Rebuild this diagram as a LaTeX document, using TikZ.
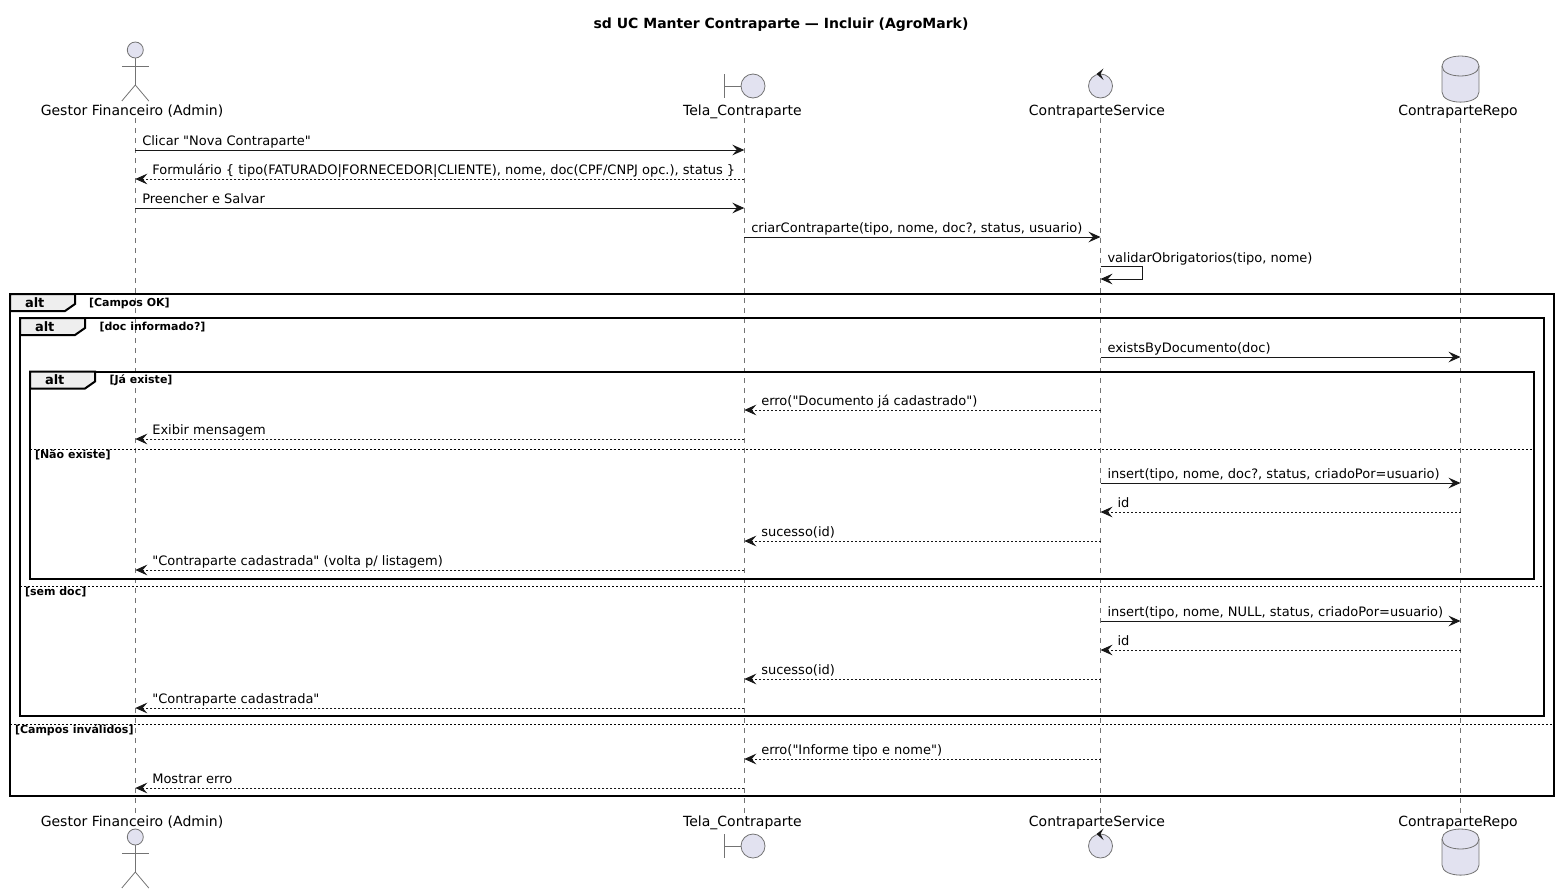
\documentclass[tikz,border=0pt]{standalone}
\usepackage{fontspec}
\newfontfamily\diagfont{DejaVu Sans}
\usepackage{tikz}
\usetikzlibrary{arrows.meta,calc}

\definecolor{partfill}{HTML}{E2E2F0}
\definecolor{partline}{HTML}{181818}
\definecolor{tabfill}{HTML}{EEEEEE}

\tikzset{
	symbol/.style={draw=black!55, line width=0.6pt, fill=partfill},
	symline/.style={draw=black!55, line width=0.6pt},
	actorsym/.pic={
		\draw[symline] (0,8) -- (0,35) (-13.5,16) -- (13.5,16);
		\draw[symline] (-13.5,51) -- (0,35) -- (13.5,51);
		\draw[symbol] (0,0) circle [radius=8];
	},
	boundarysym/.pic={
		\draw[symline] (-29,-12) -- (-29,12) (-29,0) -- (-12,0);
		\draw[symbol] (0,0) circle [radius=12];
	},
	controlsym/.pic={
		\draw[symbol] (0,0) circle [radius=12];
		\fill[partline] (-4,-12) -- (3,-17.5) -- (0,-12) -- (3,-6) -- cycle;
	},
	dbsym/.pic={
		\draw[symbol] (-18.5,0) -- (-18.5,26) .. controls (-18.5,39.5) and (18.5,39.5) .. (18.5,26)
			-- (18.5,0) .. controls (18.5,-13.3) and (-18.5,-13.3) .. (-18.5,0) -- cycle;
		\draw[symline] (-18.5,0) .. controls (-18.5,13.3) and (18.5,13.3) .. (18.5,0);
	}
}

\begin{document}
\begin{tikzpicture}
		[
			x=0.75pt,
			y=-0.75pt,
			every node/.style={inner sep=0pt, outer sep=0pt, text=black},
			title/.style={font=\diagfont\fontsize{10.5}{12}\selectfont\bfseries, anchor=base},
			part/.style={font=\diagfont\fontsize{10.5}{12}\selectfont, anchor=base},
			msg/.style={font=\diagfont\fontsize{9.75}{12}\selectfont, anchor=base west},
			alttag/.style={font=\diagfont\fontsize{9.75}{12}\selectfont\bfseries, anchor=base west},
			guard/.style={font=\diagfont\fontsize{8.25}{10}\selectfont\bfseries, anchor=base west},
			lifeline/.style={draw=black!55, line width=0.55pt, dash pattern=on 3.75pt off 3.75pt},
			arrow/.style={draw=partline, line width=0.75pt, -{Stealth[length=9pt,width=8pt,inset=3.4pt]}},
			reply/.style={arrow, dash pattern=on 1.5pt off 1.5pt},
			frameline/.style={draw=black, line width=1.5pt},
			sepline/.style={draw=black, line width=0.75pt, dash pattern=on 1.5pt off 1.5pt}
		]
		\useasboundingbox (0,0) rectangle (1559,893);

		% title
		\node[title] (title) at ( 781, 28 ) {sd UC Manter Contraparte — Incluir (AgroMark)};

		% lifelines
		\foreach \name/\x in {G/135.3,T/744.3,S/1100.5,R/1460.5}
		{
			\coordinate (\name) at (\x,118);
			\coordinate (\name end) at (\x,814);
			\draw[lifeline] (\name) -- (\name end);
		}

		% participants
		\pic at (  135.3,  50 ) {actorsym};
		\pic at (  753.0,  86 ) {boundarysym};
		\pic at ( 1100.5,  86 ) {controlsym};
		\pic at ( 1460.5,  66 ) {dbsym};
		\pic at (  135.3, 837 ) {actorsym};
		\pic at (  753.0, 846 ) {boundarysym};
		\pic at ( 1100.5, 846 ) {controlsym};
		\pic at ( 1460.5, 839 ) {dbsym};

		\foreach \name/\x/\txt in
		{G/132/Gestor Financeiro (Admin),T/742.5/Tela\_Contraparte,S/1097/ContraparteService,R/1458/ContraparteRepo}
		{
			\node[part] (\name head) at ( \x, 115 ) {\txt};
			\node[part] (\name foot) at ( \x, 826 ) {\txt};
		}

		% alt frames
		\foreach \id/\lft/\rgt/\top/\bot/\txt/\gx in
		{one/10/1554/294/796/{[Campos OK]}/89,two/20/1544/318/716/{[doc informado?]}/99.5,three/30/1534/371.5/579/{[Já existe]}/109.5}
		{
			\draw[frameline] (\lft,\top) rectangle (\rgt,\bot);
			\draw[frameline, fill=tabfill] (\lft,\top) -- (\lft+65,\top) -- (\lft+65,\top+10) -- (\lft+55,\top+17) -- (\lft,\top+17) -- cycle;
			\node[alttag] (alt\id) at ( \lft+15, \top+13 ) {alt};
			\node[guard] (guard\id) at ( \gx, \top+12 ) {\txt};
		}

		% else separators
		\foreach \id/\lft/\rgt/\y/\txt in
		{three/30/1534/449/{[Não existe]},two/20/1544/586/{[sem doc]},one/10/1554/724/{[Campos inválidos]}}
		{
			\draw[sepline] (\lft,\y) -- (\rgt,\y);
			\node[guard] (else\id) at ( \lft+5, \y+9.5 ) {\txt};
		}

		% calls
		\foreach \y/\from/\to/\txt in
		{150/G/T/{Clicar "Nova Contraparte"},
		 208/G/T/{Preencher e Salvar},
		 237/T/S/{criarContraparte(tipo, nome, doc?, status, usuario)},
		 357/S/R/{existsByDocumento(doc)},
		 483/S/R/{insert(tipo, nome, doc?, status, criadoPor=usuario)},
		 621/S/R/{insert(tipo, nome, NULL, status, criadoPor=usuario)}}
		{
			\coordinate (a\y) at (\from |- 0,\y);
			\coordinate (b\y) at (\to |- 0,\y);
			\draw[arrow] (a\y) -- (b\y);
			\node[msg] (m\y) at ($(a\y)+(7,-4.5)$) {\txt};
		}

		% replies
		\foreach \y/\from/\to/\txt in
		{179/T/G/{Formulário \{ tipo(FATURADO|FORNECEDOR|CLIENTE), nome, doc(CPF/CNPJ opc.), status \}},
		 410/S/T/{erro("Documento já cadastrado")},
		 439/T/G/{Exibir mensagem},
		 512/R/S/{id},
		 541/S/T/{sucesso(id)},
		 570/T/G/{"Contraparte cadastrada" (volta p/ listagem)},
		 650/R/S/{id},
		 679/S/T/{sucesso(id)},
		 708/T/G/{"Contraparte cadastrada"},
		 759/S/T/{erro("Informe tipo e nome")},
		 788/T/G/{Mostrar erro}}
		{
			\coordinate (a\y) at (\from |- 0,\y);
			\coordinate (b\y) at (\to |- 0,\y);
			\draw[reply] (a\y) -- (b\y);
			\node[msg] (m\y) at ($(b\y)+(17,-4.5)$) {\txt};
		}

		% self call
		\coordinate (selfa) at (S |- 0,266.5);
		\coordinate (selfb) at (S |- 0,279);
		\draw[arrow] (selfa) -- ++(42,0) -- ++(0,12.5) -- (selfb);
		\node[msg] (mself) at ($(selfa)+(7,-4.5)$) {validarObrigatorios(tipo, nome)};

	\end{tikzpicture}
\end{document}
